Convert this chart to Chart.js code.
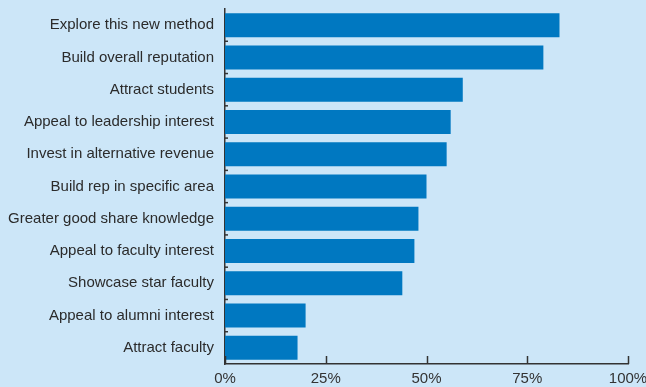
<!DOCTYPE html>
<html>
<head>
<meta charset="utf-8">
<script src="https://cdn.jsdelivr.net/npm/chart.js@4/dist/chart.umd.min.js"></script>
<style>
  html, body { margin: 0; padding: 0; background: #cce6f8; }
  #wrap { width: 646px; height: 387px; position: relative; }
</style>
</head>
<body>
<div id="wrap"><canvas id="c"></canvas></div>
<script>
const categories = [
  'Explore this new method',
  'Build overall reputation',
  'Attract students',
  'Appeal to leadership interest',
  'Invest in alternative revenue',
  'Build rep in specific area',
  'Greater good share knowledge',
  'Appeal to faculty interest',
  'Showcase star faculty',
  'Appeal to alumni interest',
  'Attract faculty'
];
const shares = [83, 79, 59, 56, 55, 50, 48, 47, 44, 20, 18];
const xTicks = [0, 25, 50, 75, 100];

const AXIS = '#333333';
const FONT = 'Liberation Sans, Arial, sans-serif';

// Short tick marks drawn inward from both axes
const innerTicks = {
  id: 'innerTicks',
  afterDatasetsDraw(chart) {
    const { ctx, scales: { x, y }, chartArea } = chart;
    ctx.save();
    ctx.strokeStyle = AXIS;
    ctx.lineWidth = 1.5;
    xTicks.forEach(v => {
      const px = Math.round(x.getPixelForValue(v)) + 0.5;
      ctx.beginPath();
      ctx.moveTo(px, chartArea.bottom);
      ctx.lineTo(px, chartArea.bottom - 8);
      ctx.stroke();
    });
    for (let i = 1; i < categories.length; i++) {
      const py = (y.getPixelForValue(i - 1) + y.getPixelForValue(i)) / 2;
      ctx.beginPath();
      ctx.moveTo(chartArea.left, py);
      ctx.lineTo(chartArea.left + 3, py);
      ctx.stroke();
    }
    ctx.restore();
  }
};

new Chart(document.getElementById('c'), {
  type: 'bar',
  data: {
    labels: categories,
    datasets: [{
      data: shares,
      backgroundColor: '#0078c1',
      borderWidth: 0,
      categoryPercentage: 1,
      barPercentage: 0.743
    }]
  },
  options: {
    indexAxis: 'y',
    responsive: true,
    maintainAspectRatio: false,
    animation: false,
    layout: { padding: 0 },
    plugins: {
      legend: { display: false },
      tooltip: { enabled: false }
    },
    scales: {
      x: {
        min: 0,
        max: 100,
        afterBuildTicks(scale) {
          scale.ticks = xTicks.map(v => ({ value: v }));
        },
        afterFit(scale) {
          scale.height = 23;
          scale.paddingLeft = 0;
          scale.paddingRight = 18;
        },
        grid: { display: false, drawTicks: false },
        border: { display: true, color: AXIS, width: 1.5 },
        ticks: {
          padding: 6,
          color: AXIS,
          font: { family: FONT, size: 15 },
          callback: v => v + '%'
        }
      },
      y: {
        afterFit(scale) {
          scale.width = 225;
          scale.paddingTop = 9;
          scale.paddingBottom = 0;
        },
        grid: { display: false, drawTicks: false },
        border: { display: true, color: AXIS, width: 1.5 },
        ticks: {
          padding: 11,
          color: '#2b2b2b',
          font: { family: FONT, size: 15 }
        }
      }
    }
  },
  plugins: [innerTicks]
});
</script>
</body>
</html>
